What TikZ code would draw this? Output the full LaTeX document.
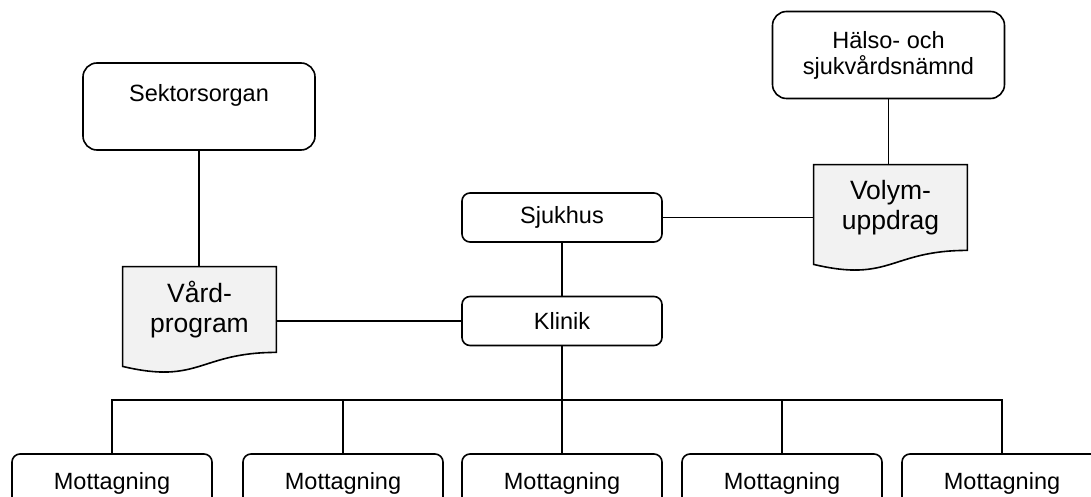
\documentclass[tikz,border=0pt]{standalone}
\usepackage{fontspec}
\setmainfont{Liberation Sans}
\usetikzlibrary{backgrounds}
\definecolor{docgray}{RGB}{242,242,242}
\tikzset{
  orgbox/.style={draw, rounded corners=4pt, line width=0.8pt, minimum width=100pt,
    minimum height=24.5pt, inner sep=0pt, align=center, font=\fontsize{11.75}{13}\selectfont},
  bigbox/.style={orgbox, rounded corners=7pt, minimum width=116pt, minimum height=43.5pt},
  doctext/.style={minimum width=76.5pt, minimum height=42.5pt, inner sep=0pt, align=center,
    font=\fontsize{13.25}{15}\selectfont},
  docfill/.style={draw, fill=docgray, line width=0.8pt},
  wire/.style={line width=0.7pt}
}
\begin{document}
\begin{tikzpicture}[x=0.5pt, y=-0.5pt]
    \useasboundingbox (0,0) rectangle (1091,497);
    \clip (0,0) rectangle (1091,497);
    % top level
    \node[bigbox, text height=8.5pt, text depth=13.5pt] (sektor) at (199,106.5) {Sektorsorgan};
    \node[bigbox] (halso) at (888.5,55) {Hälso- och\\sjukvårdsnämnd};
    \node[orgbox] (sjukhus) at (562,217.5) {Sjukhus};
    \node[orgbox] (klinik) at (562,321) {Klinik};
    % documents
    \node[doctext] (vard) at (199.5,309.5) {Vård-\\program};
    \node[doctext] (volym) at (890.5,207.5) {Volym-\\uppdrag};
    \begin{scope}[on background layer]
        \foreach \d in {vard,volym}
            \draw[docfill] (\d.north west) -- (\d.north east) -- (\d.south east)
                .. controls (\d.south) and ([yshift=-16.2pt]\d.south) .. ([yshift=-7pt]\d.south west) -- cycle;
    \end{scope}
    \draw[wire] (sektor.south) -- (sektor.south |- vard.north);
    \draw[wire] (halso.south) -- (halso.south |- volym.north);
    \draw[wire] (sjukhus.east) -- (sjukhus.east -| volym.west);
    \draw[wire] (klinik.west) -- (klinik.west -| vard.east);
    \draw[wire] (sjukhus) -- (klinik);
    % mottagningar
    \coordinate (bus) at (562,400);
    \draw[line width=1.4pt] (klinik) -- (bus);
    \foreach \x [count=\i] in {112,343,562,782,1002} {
        \node[orgbox, minimum height=29pt] (m\i) at (\x,483) {Mottagning};
        \draw[line width=0.9pt] (bus) -| (m\i);
    }
\end{tikzpicture}
\end{document}
